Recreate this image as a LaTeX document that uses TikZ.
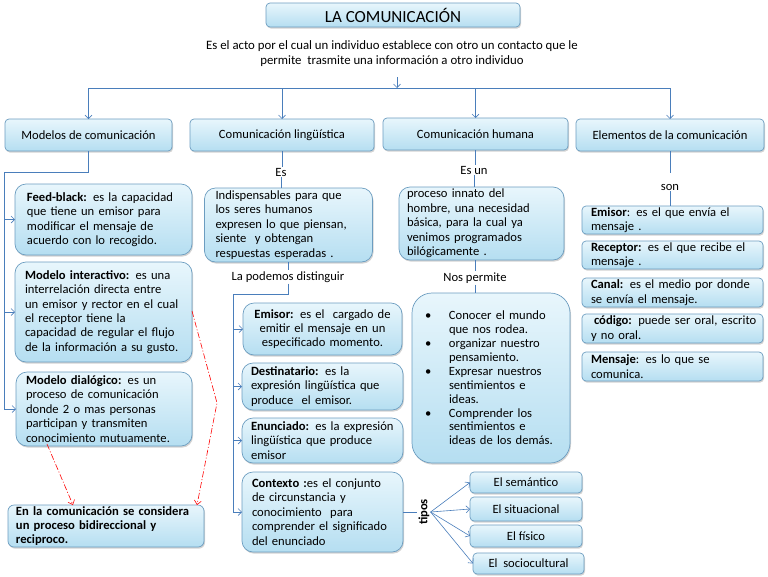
\documentclass[tikz,border=0pt]{standalone}
\usepackage{fontspec}
\setmainfont{Carlito}
\usetikzlibrary{arrows.meta,shadows}
\setlength{\parindent}{0pt}
\definecolor{lnc}{HTML}{4A7EBB}
\definecolor{bdc}{HTML}{6C9DC0}
\definecolor{tpc}{HTML}{E8F6FC}
\definecolor{btc}{HTML}{B5DEF1}
\newcommand{\jl}[1]{\makebox[\hsize][s]{#1}}
\newcommand{\fs}{\fontsize{12.6}{14.4}\selectfont}
\newcommand{\bu}{\makebox[24pt][l]{•}}
\newcommand{\bi}{\hspace*{24pt}}
\begin{document}
\begin{tikzpicture}[x=1pt,y=-1pt,
 bx/.style={draw=bdc, line width=0.7pt, top color=tpc, bottom color=btc, rounded corners=4pt,
   drop shadow={shadow xshift=1pt,shadow yshift=-1.6pt,opacity=0.35},
   font=\fs, inner ysep=0pt, outer sep=0pt},
 rbx/.style={bx, rounded corners=11pt},
 lbl/.style={font=\fs, inner sep=1pt},
 ln/.style={draw=lnc, line width=0.6pt},
 arr/.style={ln, -{Straight Barb[length=3.5pt,width=7pt]}},
 rarr/.style={draw=red, line width=0.6pt, dash pattern=on 6pt off 2pt on 1pt off 2pt,
   -{Straight Barb[length=4pt,width=7pt]}}
]
\useasboundingbox (0,0) rectangle (768,576);

% title and description
\node[bx, minimum width=254, minimum height=24, font=\fontsize{17}{19}\selectfont] (title) at (393,15) {LA COMUNICACIÓN};
\node[lbl, align=center, font=\fontsize{12.8}{15}\selectfont] (desc) at (392,54)
 {Es el acto por el cual un individuo establece con otro un contacto que le\\permite\ \ trasmite una información a otro individuo};
\coordinate (dtop) at (397,77);
\coordinate (hub) at (397,88);
\draw[arr] (dtop) -- (hub);

% top boxes
\node[bx, minimum width=167, minimum height=32] (mod) at (88.5,135) {Modelos de comunicación};
\node[bx, minimum width=184, minimum height=32] (ling) at (282,135) {Comunicación lingüística};
\node[bx, minimum width=185, minimum height=32] (hum) at (475.5,134) {Comunicación humana};
\node[bx, minimum width=188, minimum height=32] (elem) at (670,135) {Elementos de la comunicación};

\draw[ln] (mod.north |- hub) -- (elem.north |- hub);
\draw[arr] (mod.north |- hub) -- (mod.north);
\draw[arr] (ling.north |- hub) -- (ling.north);
\draw[arr] (hum.north |- hub) -- (hum.north);
\draw[arr] (elem.north |- hub) -- (elem.north);

% left column
\node[rbx, minimum width=177, minimum height=71, text width=153, inner xsep=12, align=left] (feed) at (103.5,219.5)
 {\jl{\textbf{Feed-black:} es la capacidad}\\\jl{que tiene un emisor para}\\\jl{modificar el mensaje de}\\acuerdo con lo recogido.};
\node[rbx, minimum width=177, minimum height=100, text width=157, inner xsep=10, align=left] (inter) at (103.5,312)
 {\textbf{Modelo interactivo:} es una\\interrelación directa entre\\un emisor y rector en el cual\\el receptor tiene la\\capacidad de regular el flujo\\de la información a su gusto.};
\node[rbx, minimum width=176, minimum height=74, text width=156, inner xsep=10, align=left] (dial) at (104,409)
 {\textbf{Modelo dialógico:} es un\\proceso de comunicación\\donde 2 o mas personas\\participan y transmiten\\conocimiento mutuamente.};
\node[bx, rounded corners=6pt, minimum width=196, minimum height=42, text width=180, inner xsep=8, align=left, font=\fs\bfseries] (enla) at (106,526)
 {En la comunicación se considera\\un proceso bidireccional y\\reciproco.};

\coordinate (lk) at (4,172);
\draw[ln] (mod.south) |- (lk) -- (lk |- dial.west);
\draw[arr] (lk |- feed.west) -- (feed.west);
\draw[arr] (lk |- inter.west) -- (inter.west);
\draw[arr] (lk |- dial.west) -- (dial.west);

\coordinate (rb) at (217,403);
\draw[rarr] ([xshift=-57,yshift=2]dial.south) -- ([xshift=-33]enla.north);
\draw[rarr] ([yshift=1]inter.east) -- (rb) -- ([xshift=91]enla.north);

% middle column (linguistica)
\node[lbl] (es) at (281,172) {Es};
\node[rbx, minimum width=168, minimum height=74, text width=146, inner xsep=11, align=left] (ind) at (288.5,225)
 {Indispensables para que\\los seres humanos\\expresen lo que piensan,\\siente\ \ y obtengan\\respuestas esperadas .};
\node[lbl] (pd) at (288,277) {La podemos distinguir};
\draw[ln] (ling.south) -- (ling.south |- es.north);
\draw[ln] (es.south) -- (es.south |- ind.north);
\draw[ln] (ind.south) -- (ind.south |- pd.north);

\node[rbx, minimum width=159, minimum height=52, text width=143, inner xsep=8, align=center] (emi) at (322.5,329)
 {\textbf{Emisor:} es el\ \ cargado de\\emitir el mensaje en un\\especificado momento.};
\node[rbx, minimum width=161, minimum height=47, text width=143, inner xsep=9, align=left] (dest) at (322.5,386.5)
 {\textbf{Destinatario:} es la\\expresión lingüística que\\produce\ \ el emisor.};
\node[rbx, minimum width=161, minimum height=45, text width=143, inner xsep=9, align=left] (enun) at (322.5,440.5)
 {\textbf{Enunciado:} es la expresión\\lingüística que produce\\emisor};
\node[rbx, minimum width=161, minimum height=80, text width=141, inner xsep=10, align=left] (ctx) at (322.5,512)
 {\textbf{Contexto :}es el conjunto\\de circunstancia y\\conocimiento\ \ para\\comprender el significado\\del enunciado};

\coordinate (mk) at (233,294);
\draw[ln] (pd.south -| ind.south) |- (mk) -- (mk |- ctx.west);
\draw[arr] (mk |- emi.west) -- (emi.west);
\draw[arr] (mk |- dest.west) -- (dest.west);
\draw[arr] (mk |- enun.west) -- (enun.west);
\draw[arr] (mk |- ctx.west) -- (ctx.west);

% tipos
\node[lbl, rotate=90, font=\fs\bfseries] (tipos) at (424,512) {tipos};
\draw[ln] (ctx.east) -- (tipos.north);
\node[bx, minimum width=112, minimum height=21] (sem) at (526,482.5) {El semántico};
\node[bx, minimum width=112, minimum height=24] (sit) at (526,509) {El situacional};
\node[bx, minimum width=112, minimum height=22] (fis) at (526,536) {El físico};
\node[bx, minimum width=111, minimum height=21] (soc) at (528.5,563.5) {El\ \ sociocultural};
\draw[arr] (tipos.south) -- (sem.west);
\draw[arr] (tipos.south) -- (sit.west);
\draw[arr] (tipos.south) -- (fis.west);
\draw[arr] (tipos.south) -- (soc.west);

% humana column
\node[lbl] (esun) at (474,170) {Es un};
\node[rbx, minimum width=165, minimum height=73, text width=149, inner xsep=8, align=left] (hum1) at (481.5,223.5)
 {proceso innato del\\hombre, una necesidad\\básica, para la cual ya\\venimos programados\\bilógicamente .};
\node[lbl] (np) at (475,278) {Nos permite};
\node[bx, rounded corners=20pt, minimum width=158, minimum height=170, text width=132, inner xsep=13, align=left, font=\fontsize{12.6}{13.9}\selectfont] (npb) at (491,378)
 {\bu Conocer el mundo\\\bi que nos rodea.\\\bu organizar nuestro\\\bi pensamiento.\\\bu Expresar nuestros\\\bi sentimientos e\\\bi ideas.\\\bu Comprender los\\\bi sentimientos e\\\bi ideas de los demás.};
\draw[ln] (hum.south) -- (hum.south |- esun.north);
\draw[ln] (esun.south) -- (esun.south |- hum1.north);
\draw[ln] (np.north |- hum1.south) -- (np.north);
\draw[ln] (np.south) -- (np.south |- npb.north);

% elementos column
\coordinate (sk) at (670,173);
\node[lbl] (son) at (670,187) {son};
\node[bx, minimum width=181, minimum height=28, text width=163, inner xsep=9, align=left] (e1) at (672.5,220)
 {\jl{\textbf{Emisor}: es el que envía el}\\mensaje .};
\node[bx, minimum width=181, minimum height=28, text width=163, inner xsep=9, align=left] (e2) at (672.5,255)
 {\jl{\textbf{Receptor:} es el que recibe el}\\mensaje .};
\node[bx, minimum width=181, minimum height=29, text width=163, inner xsep=9, align=left] (e3) at (672.5,292.5)
 {\jl{\textbf{Canal:} es el medio por donde}\\se envía el mensaje.};
\node[bx, minimum width=181, minimum height=29, text width=163, inner xsep=9, align=left] (e4) at (672.5,328.5)
 {\jl{\kern3pt\textbf{código:} puede ser oral, escrito}\\y no oral.};
\node[bx, minimum width=181, minimum height=29, text width=163, inner xsep=9, align=left] (e5) at (672.5,366.5)
 {\textbf{Mensaje}: es lo que se\\comunica.};
\draw[ln] (elem.south) -- (sk);
\draw[ln] (son.south) -- (son.south |- e1.north);
\end{tikzpicture}
\end{document}
